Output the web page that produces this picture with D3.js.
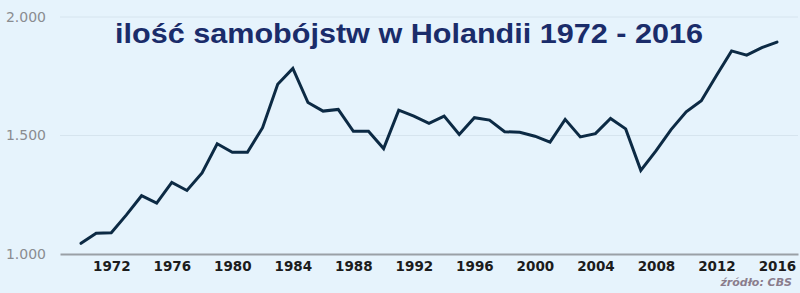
<!DOCTYPE html>
<html>
<head>
<meta charset="utf-8">
<script src="https://cdn.jsdelivr.net/npm/d3@7"></script>
<style>
html,body{margin:0;padding:0;background:#e6f3fc;}
svg{display:block;}
</style>
</head>
<body>
<svg id="chart" width="800" height="293"></svg>
<script>
const years = d3.range(1970, 2017);
const suicides = [1045, 1088, 1090, 1165, 1246, 1215, 1302, 1268, 1342, 1465,
  1429, 1429, 1533, 1716, 1783, 1639, 1603, 1610, 1518, 1518,
  1445, 1607, 1582, 1551, 1582, 1504, 1575, 1565, 1516, 1514,
  1497, 1472, 1568, 1494, 1508, 1572, 1528, 1353, 1435, 1525,
  1600, 1647, 1753, 1857, 1839, 1871, 1894];
const xTicks = [1972, 1976, 1980, 1984, 1988, 1992, 1996, 2000, 2004, 2008, 2012, 2016];
const yTicks = [1000, 1500, 2000];
const yTickLabels = ["1.000", "1.500", "2.000"];
const titleText = "ilość samobójstw w Holandii 1972 - 2016";
const sourceText = "źródło: CBS";

const data = years.map((y, i) => ({year: y, value: suicides[i]}));
const svg = d3.select("#chart");

const x = d3.scaleLinear().domain([1968.61, 2017.39]).range([60, 798]);
const y = d3.scaleLinear().domain([1000, 2000]).range([254, 17]);

svg.append("rect").attr("width", 800).attr("height", 293).attr("fill", "#e6f3fc");

// gridlines
svg.append("g").selectAll("line").data(yTicks.filter(d => d > 1000)).join("line")
  .attr("x1", 60).attr("x2", 798)
  .attr("y1", d => y(d)).attr("y2", d => y(d))
  .attr("stroke", "#d6e4ee").attr("stroke-width", 1);

// baseline / x axis
const xAxis = d3.axisBottom(x).tickValues(xTicks).tickFormat(d3.format("d")).tickSize(0).tickPadding(7);
const gx = svg.append("g").attr("transform", `translate(0,${y(1000)})`).call(xAxis);
gx.select(".domain").attr("stroke", "#9aa0a6").attr("stroke-width", 2);
gx.selectAll("text").attr("font-family", "DejaVu Sans, Verdana, sans-serif")
  .attr("font-size", 13.5).attr("font-weight", "bold").attr("fill", "#1c1c1c");

// y labels
const yAxis = d3.axisLeft(y).tickValues(yTicks).tickFormat((d, i) => yTickLabels[i]).tickSize(0).tickPadding(0);
const gy = svg.append("g").attr("transform", "translate(46,0)").call(yAxis);
gy.select(".domain").remove();
gy.selectAll("text").attr("font-family", "DejaVu Sans, Verdana, sans-serif")
  .attr("font-size", 14).attr("fill", "#8a8c90");

// line
const line = d3.line().x(d => x(d.year)).y(d => y(d.value));
svg.append("path").datum(data).attr("d", line)
  .attr("fill", "none").attr("stroke", "#0c2a44").attr("stroke-width", 3)
  .attr("stroke-linejoin", "miter").attr("stroke-linecap", "round");

// title
svg.append("text").attr("x", 115).attr("y", 43)
  .attr("font-family", "Liberation Sans, Arial, sans-serif")
  .attr("font-size", 28).attr("font-weight", "bold").attr("fill", "#1a2c6a")
  .attr("textLength", 588).attr("lengthAdjust", "spacingAndGlyphs")
  .text(titleText);

// source
svg.append("text").attr("x", 792).attr("y", 286).attr("text-anchor", "end")
  .attr("font-family", "DejaVu Sans, Verdana, sans-serif")
  .attr("font-size", 11).attr("font-style", "italic").attr("font-weight", "bold")
  .attr("fill", "#8a7d8c")
  .text(sourceText);
</script>
</body>
</html>
